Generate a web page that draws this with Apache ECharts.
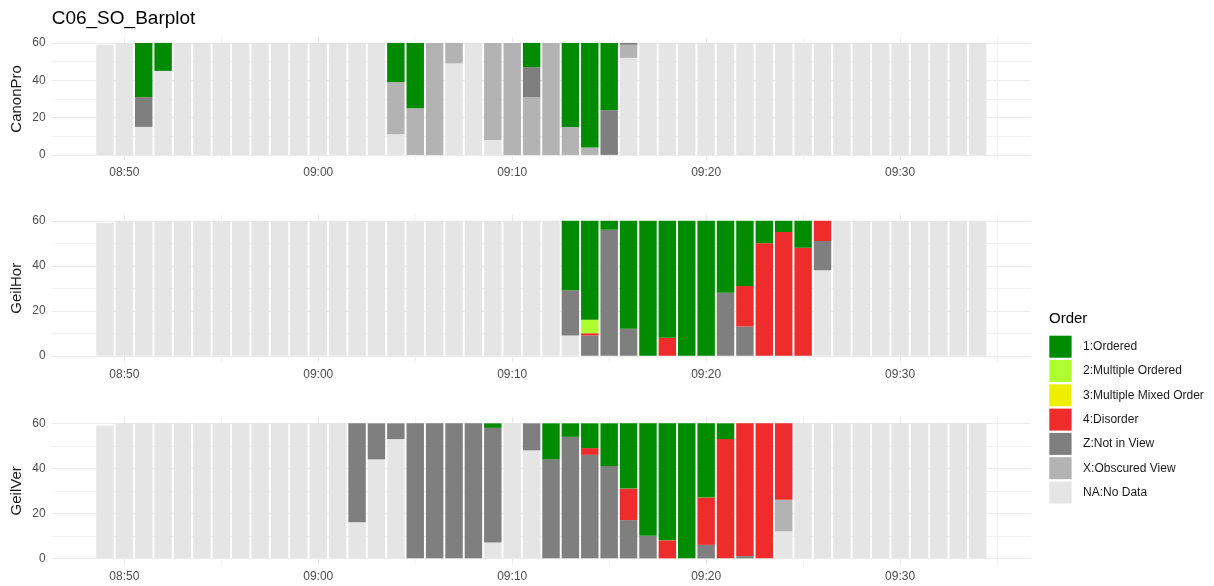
<!DOCTYPE html>
<html>
<head>
<meta charset="utf-8">
<script src="https://cdn.jsdelivr.net/npm/echarts@6/dist/echarts.min.js"></script>
<style>
  html, body { margin: 0; padding: 0; background: #ffffff; }
  #chart { width: 1214px; height: 586px; }
</style>
</head>
<body>
<div id="chart"></div>
<script>
// ---------- DATA ----------
const chartTitle = 'C06_SO_Barplot';
const legendTitle = 'Order';
const categories = ['1:Ordered', '2:Multiple Ordered', '3:Multiple Mixed Order', '4:Disorder', 'Z:Not in View', 'X:Obscured View', 'NA:No Data'];
const panels = ['CanonPro', 'GeilHor', 'GeilVer'];
const times = ['08:49','08:50','08:51','08:52','08:53','08:54','08:55','08:56','08:57','08:58',
               '08:59','09:00','09:01','09:02','09:03','09:04','09:05','09:06','09:07','09:08',
               '09:09','09:10','09:11','09:12','09:13','09:14','09:15','09:16','09:17','09:18',
               '09:19','09:20','09:21','09:22','09:23','09:24','09:25','09:26','09:27','09:28',
               '09:29','09:30','09:31','09:32','09:33','09:34'];
const xTickLabels = ['08:50', '09:00', '09:10', '09:20', '09:30'];
const xMinorTicks = ['08:55', '09:05', '09:15', '09:25', '09:35'];
const yTicks = [0, 20, 40, 60];
const yMinorTicks = [10, 30, 50];

// CanonPro
const cpOrdered   = [0,0,29,15,0,0,0,0,0,0, 0,0,0,0,0,21,35,0,0,0, 0,0,13,0,45,56,36,0,0,0, 0,0,0,0,0,0,0,0,0,0, 0,0,0,0,0,0];
const cpMultOrd   = [0,0,0,0,0,0,0,0,0,0, 0,0,0,0,0,0,0,0,0,0, 0,0,0,0,0,0,0,0,0,0, 0,0,0,0,0,0,0,0,0,0, 0,0,0,0,0,0];
const cpMixed     = [0,0,0,0,0,0,0,0,0,0, 0,0,0,0,0,0,0,0,0,0, 0,0,0,0,0,0,0,0,0,0, 0,0,0,0,0,0,0,0,0,0, 0,0,0,0,0,0];
const cpDisorder  = [0,0,0,0,0,0,0,0,0,0, 0,0,0,0,0,0,0,0,0,0, 0,0,0,0,0,0,0,0,0,0, 0,0,0,0,0,0,0,0,0,0, 0,0,0,0,0,0];
const cpNotInView = [0,0,16,0,0,0,0,0,0,0, 0,0,0,0,0,0,0,0,0,0, 0,0,16,0,0,0,24,1,0,0, 0,0,0,0,0,0,0,0,0,0, 0,0,0,0,0,0];
const cpObscured  = [0,0,0,0,0,0,0,0,0,0, 0,0,0,0,0,28,25,60,11,0, 52,60,31,60,15,4,0,7,0,0, 0,0,0,0,0,0,0,0,0,0, 0,0,0,0,0,0];
const cpNoData    = [59,60,15,45,60,60,60,60,60,60, 60,60,60,60,60,11,0,0,49,60, 8,0,0,0,0,0,0,52,60,60, 60,60,60,60,60,60,60,60,60,60, 60,60,60,60,60,60];

// GeilHor
const ghOrdered   = [0,0,0,0,0,0,0,0,0,0, 0,0,0,0,0,0,0,0,0,0, 0,0,0,0,31,44,4,48,60,52, 60,60,32,29,10,5,12,0,0,0, 0,0,0,0,0,0];
const ghMultOrd   = [0,0,0,0,0,0,0,0,0,0, 0,0,0,0,0,0,0,0,0,0, 0,0,0,0,0,6,0,0,0,0, 0,0,0,0,0,0,0,0,0,0, 0,0,0,0,0,0];
const ghMixed     = [0,0,0,0,0,0,0,0,0,0, 0,0,0,0,0,0,0,0,0,0, 0,0,0,0,0,0,0,0,0,0, 0,0,0,0,0,0,0,0,0,0, 0,0,0,0,0,0];
const ghDisorder  = [0,0,0,0,0,0,0,0,0,0, 0,0,0,0,0,0,0,0,0,0, 0,0,0,0,0,1,0,0,0,8, 0,0,0,18,50,55,48,9,0,0, 0,0,0,0,0,0];
const ghNotInView = [0,0,0,0,0,0,0,0,0,0, 0,0,0,0,0,0,0,0,0,0, 0,0,0,0,20,9,56,12,0,0, 0,0,28,13,0,0,0,13,0,0, 0,0,0,0,0,0];
const ghObscured  = [0,0,0,0,0,0,0,0,0,0, 0,0,0,0,0,0,0,0,0,0, 0,0,0,0,0,0,0,0,0,0, 0,0,0,0,0,0,0,0,0,0, 0,0,0,0,0,0];
const ghNoData    = [59,60,60,60,60,60,60,60,60,60, 60,60,60,60,60,60,60,60,60,60, 60,60,60,60,9,0,0,0,0,0, 0,0,0,0,0,0,0,38,60,60, 60,60,60,60,60,60];

// GeilVer
const gvOrdered   = [0,0,0,0,0,0,0,0,0,0, 0,0,0,0,0,0,0,0,0,0, 2,0,0,16,6,11,19,29,50,52, 60,33,7,0,0,0,0,0,0,0, 0,0,0,0,0,0];
const gvMultOrd   = [0,0,0,0,0,0,0,0,0,0, 0,0,0,0,0,0,0,0,0,0, 0,0,0,0,0,0,0,0,0,0, 0,0,0,0,0,0,0,0,0,0, 0,0,0,0,0,0];
const gvMixed     = [0,0,0,0,0,0,0,0,0,0, 0,0,0,0,0,0,0,0,0,0, 0,0,0,0,0,0,0,0,0,0, 0,0,0,0,0,0,0,0,0,0, 0,0,0,0,0,0];
const gvDisorder  = [0,0,0,0,0,0,0,0,0,0, 0,0,0,0,0,0,0,0,0,0, 0,0,0,0,0,3,0,14,0,8, 0,21,53,59,60,34,0,0,0,0, 0,0,0,0,0,0];
const gvNotInView = [0,0,0,0,0,0,0,0,0,0, 0,0,0,44,16,7,60,60,60,60, 51,0,12,44,54,46,41,17,10,0, 0,6,0,1,0,0,0,0,0,0, 0,0,0,0,0,0];
const gvObscured  = [0,0,0,0,0,0,0,0,0,0, 0,0,0,0,0,0,0,0,0,0, 0,0,0,0,0,0,0,0,0,0, 0,0,0,0,0,14,0,0,0,0, 0,0,0,0,0,0];
const gvNoData    = [59,60,60,60,60,60,60,60,60,60, 60,60,60,16,44,53,0,0,0,0, 7,60,48,0,0,0,0,0,0,0, 0,0,0,0,0,12,60,60,60,60, 60,60,60,60,60,60];

// ---------- STYLE / LAYOUT ----------
const colors = {
  '1:Ordered': '#008B00',
  '2:Multiple Ordered': '#ADFF2F',
  '3:Multiple Mixed Order': '#EEEE00',
  '4:Disorder': '#EE2C2C',
  'Z:Not in View': '#7F7F7F',
  'X:Obscured View': '#B3B3B3',
  'NA:No Data': '#E5E5E5'
};
const panelData = [
  [cpOrdered, cpMultOrd, cpMixed, cpDisorder, cpNotInView, cpObscured, cpNoData],
  [ghOrdered, ghMultOrd, ghMixed, ghDisorder, ghNotInView, ghObscured, ghNoData],
  [gvOrdered, gvMultOrd, gvMixed, gvDisorder, gvNotInView, gvObscured, gvNoData]
];
const FONT = '"Liberation Sans", Arial, Helvetica, sans-serif';
const toMin = t => { const p = t.split(':'); return (+p[0]) * 60 + (+p[1]); };
const fmt = v => {
  const r = Math.round(v);
  if (Math.abs(v - r) > 1e-6 || r % 10 !== 0) return '';
  const h = Math.floor(r / 60), m = r % 60;
  return (h < 10 ? '0' : '') + h + ':' + (m < 10 ? '0' : '') + m;
};
const xFirst = toMin(times[0]) - 0.45, xLast = toMin(times[times.length - 1]) + 0.45;
const xPad = (xLast - xFirst) * 0.05;
const xMin = xFirst - xPad, xMax = xLast + xPad;
const yMin = -3, yMax = 63;

const gridDefs = [
  { left: 51.7, right: 183.1, top: 37.3, height: 123.2, outerBoundsMode: 'none' },
  { left: 51.7, right: 183.1, top: 214.0, height: 148.5, outerBoundsMode: 'none' },
  { left: 51.7, right: 183.1, top: 416.6, height: 148.5, outerBoundsMode: 'none' }
];

const grids = [], xAxes = [], yAxes = [], series = [];
panels.forEach((pname, gi) => {
  grids.push(gridDefs[gi]);
  xAxes.push({
    type: 'value', gridIndex: gi, min: xMin, max: xMax, splitNumber: 5,
    axisLine: { show: false }, axisTick: { show: false },
    axisLabel: { show: true, showMinLabel: false, showMaxLabel: false, formatter: fmt,
                 color: '#4D4D4D', fontSize: 12, fontFamily: FONT, margin: 6 },
    splitLine: { show: true, showMinLine: false, showMaxLine: false, lineStyle: { color: '#EBEBEB', width: 1 } }
  });
  yAxes.push({
    type: 'value', gridIndex: gi, min: yMin, max: yMax, splitNumber: 3,
    name: pname, nameLocation: 'middle', nameRotate: 90, nameGap: 27, nameMoveOverlap: false,
    nameTextStyle: { color: '#1A1A1A', fontSize: 15, fontFamily: FONT },
    axisLine: { show: false }, axisTick: { show: false },
    axisLabel: { showMinLabel: false, showMaxLabel: false,
                 formatter: v => (yTicks.indexOf(v) >= 0 ? String(v) : ''),
                 color: '#4D4D4D', fontSize: 12, fontFamily: FONT, margin: 6 },
    splitLine: { show: true, showMinLine: false, showMaxLine: false, lineStyle: { color: '#EBEBEB', width: 1 } }
  });
  // stack bottom-first: NA ... Ordered on top
  for (let ci = categories.length - 1; ci >= 0; ci--) {
    const name = categories[ci];
    const vals = panelData[gi][ci];
    const s = {
      name: name, type: 'bar', xAxisIndex: gi, yAxisIndex: gi, stack: 'p' + gi,
      barWidth: '90%', itemStyle: { color: colors[name] },
      // value first so that the stack is computed on the y dimension
      encode: { x: 1, y: 0 },
      data: times.map((t, i) => [vals[i], toMin(t)]),
      emphasis: { disabled: true }
    };
    if (ci === categories.length - 1) {
      s.markLine = {
        silent: true, symbol: 'none', z: 1, animation: false,
        label: { show: false },
        lineStyle: { color: '#F2F2F2', width: 1, type: 'solid' },
        emphasis: { disabled: true },
        data: xMinorTicks.map(t => ({ xAxis: toMin(t) })).concat(yMinorTicks.map(v => ({ yAxis: v })))
      };
    }
    series.push(s);
  }
});

const chart = echarts.init(document.getElementById('chart'), null, { renderer: 'canvas' });
chart.setOption({
  animation: false,
  backgroundColor: '#ffffff',
  textStyle: { fontFamily: FONT },
  title: [
    { text: chartTitle, left: 51.7, top: 9, padding: 0, textStyle: { fontSize: 19, fontWeight: 'normal', color: '#000000', fontFamily: FONT } },
    { text: legendTitle, left: 1049, top: 311, padding: 0, textStyle: { fontSize: 15, fontWeight: 'normal', color: '#000000', fontFamily: FONT } }
  ],
  legend: {
    orient: 'vertical', left: 1049.3, top: 335.7, icon: 'rect', padding: 0,
    itemWidth: 22.3, itemHeight: 22, itemGap: 2.3,
    data: categories,
    textStyle: { fontSize: 12, color: '#1A1A1A', fontFamily: FONT, padding: [0, 0, 0, 6.5] },
    selectedMode: false
  },
  grid: grids,
  xAxis: xAxes,
  yAxis: yAxes,
  series: series
});
</script>
</body>
</html>
